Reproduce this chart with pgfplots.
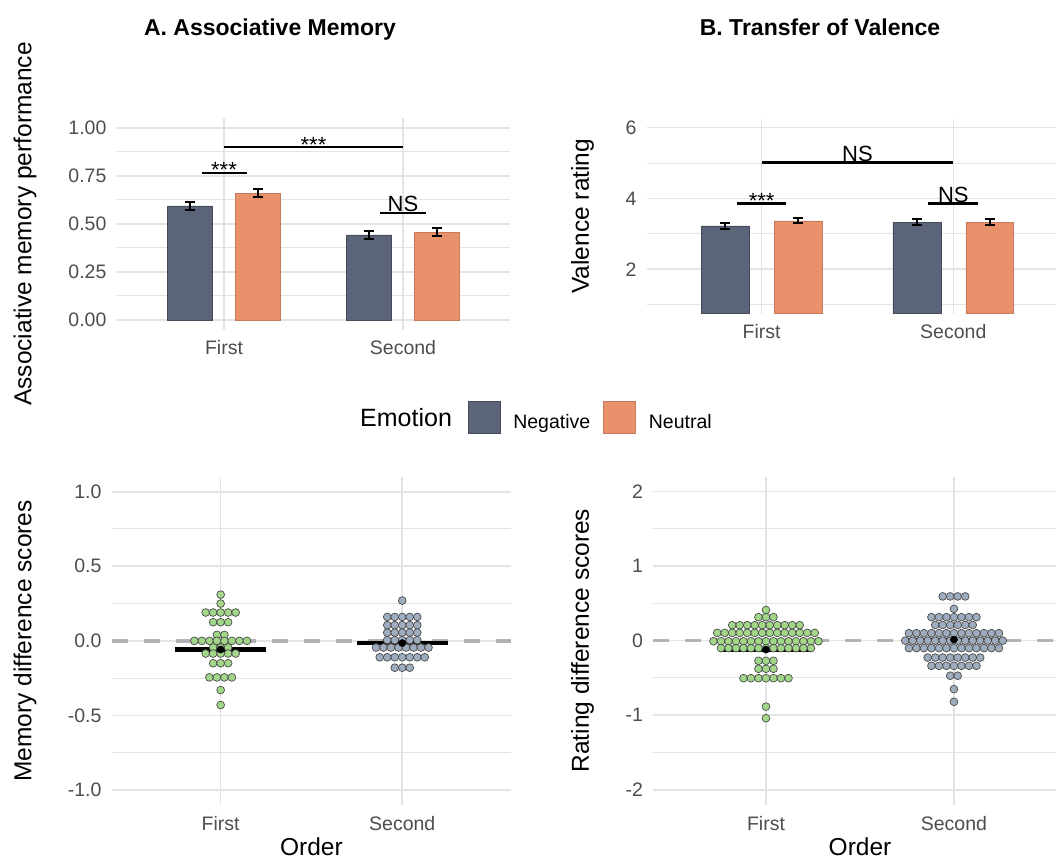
\documentclass[border=0pt]{standalone}
\usepackage{fontspec}
\setmainfont{Liberation Sans}
\usepackage{pgfplots}
\pgfplotsset{compat=1.18}
\definecolor{negc}{HTML}{5C6479}
\definecolor{neuc}{HTML}{E8916A}
\definecolor{gridc}{HTML}{E4E4E4}
\definecolor{greenc}{HTML}{A2D789}
\definecolor{grayc}{HTML}{9DADBD}
\definecolor{edgec}{HTML}{4A4A4A}
\definecolor{dashc}{HTML}{A8A8A8}
\definecolor{tickc}{HTML}{4D4D4D}
\newcommand{\tickfont}{\fontsize{19.5pt}{20pt}\selectfont}
\newcommand{\labfont}{\fontsize{24.5pt}{25pt}\selectfont}
\newcommand{\sigfont}{\fontsize{22pt}{23pt}\selectfont}
\pgfplotsset{
  base/.style={
    scale only axis, clip=true,
    axis line style={draw=none},
    major tick length=0pt, minor tick length=0pt,
    tick style={draw=none},
    xtick={1,2}, xticklabels={First,Second},
    xmajorgrids, ymajorgrids, yminorgrids,
    major grid style={draw=gridc, line width=1.6pt},
    minor grid style={draw=gridc, line width=1.0pt},
    tick label style={font=\tickfont, color=tickc},
    yticklabel style={anchor=east, inner sep=0pt, xshift=-10pt},
    xticklabel style={anchor=north, inner sep=0pt, yshift=-11pt},
    /pgf/number format/assume math mode=true,
    xmin=0.4,
  },
  sigline/.style={black, line width=2.3pt, forget plot},
  bars/.style={ybar, bar width=0.25, bar shift=0pt, forget plot,
    error bars/y dir=both, error bars/y explicit,
    error bars/error bar style={black, line width=2pt},
    error bars/error mark options={black, rotate=90, mark size=5pt, line width=2pt}},
  dotsg/.style={only marks, mark=*, mark size=3.9pt, forget plot,
    mark options={fill=greenc, draw=edgec, line width=0.7pt}},
  dotsb/.style={only marks, mark=*, mark size=3.9pt, forget plot,
    mark options={fill=grayc, draw=edgec, line width=0.7pt}},
  zeroline/.style={dashc, line width=3.5pt, dash pattern=on 16pt off 16pt, opacity=0.85, forget plot},
  meanline/.style={black, line width=4pt, forget plot},
  meanpt/.style={only marks, mark=*, mark size=3.6pt, black, forget plot,
    error bars/y dir=both, error bars/y explicit, error bars/error bar style={black, line width=2pt}, error bars/error mark=none},
}
\begin{document}
\begin{tikzpicture}
\useasboundingbox (0,0) rectangle (1056pt,859pt);

% ---------------- Panel A ----------------
\begin{axis}[base,
  at={(116.6pt,529.4pt)}, anchor=south west,
  width=393.8pt, height=211.2pt,
  xmax=2.6, ymin=-0.05, ymax=1.05,
  ytick={0,0.25,0.5,0.75,1}, yticklabels={0.00,0.25,0.50,0.75,1.00},
  minor ytick={0.125,0.375,0.625,0.875},
  ylabel={Associative memory performance},
  every axis y label/.style={at={(axis description cs:-0.2326,0.5)}, rotate=90, anchor=center, font=\labfont, inner sep=0pt},
  legend style={at={(axis description cs:0.8916,-0.4162)}, anchor=west, draw=none, fill=none,
    inner sep=0pt, outer sep=0pt, column sep=13pt, font=\tickfont, nodes={inner sep=0pt}},
  legend columns=-1,
]
\addplot[bars, fill=negc, draw=negc!75!black, line width=0.5pt] coordinates {(0.81,0.595) +- (0,0.022) (1.81,0.443) +- (0,0.022)};
\addplot[bars, fill=neuc, draw=neuc!85!black, line width=0.5pt] coordinates {(1.19,0.661) +- (0,0.020) (2.19,0.458) +- (0,0.022)};
\addplot[sigline] coordinates {(0.875,0.767) (1.128,0.767)};
\addplot[sigline] coordinates {(1,0.90) (2,0.90)};
\addplot[sigline] coordinates {(1.87,0.557) (2.13,0.557)};
\node[anchor=base, inner sep=0pt, font=\sigfont, yshift=-5pt] at (axis cs:1,0.767) {***};
\node[anchor=base, inner sep=0pt, font=\sigfont, yshift=-5pt] at (axis cs:1.5,0.90) {***};
\node[anchor=base, inner sep=0pt, font=\sigfont, yshift=1.2pt] at (axis cs:2,0.557) {NS};
\addlegendimage{legend image code/.code={\draw[fill=negc, draw=negc!75!black, line width=0.6pt] (0pt,-11.6pt) rectangle (32pt,20pt);}}
\addlegendentry{Negative}
\addlegendimage{legend image code/.code={\draw[fill=neuc, draw=neuc!85!black, line width=0.6pt] (0pt,-11.6pt) rectangle (32pt,20pt);}}
\addlegendentry{Neutral}
\end{axis}

% ---------------- Panel B ----------------
\begin{axis}[base,
  at={(646.7pt,545.45pt)}, anchor=south west,
  width=409.3pt, height=194.7pt,
  xmax=2.536, ymin=0.75, ymax=6.25,
  ytick={2,4,6}, yticklabels={2,4,6},
  minor ytick={1,3,5},
  ylabel={Valence rating},
  every axis y label/.style={at={(axis description cs:-0.1569,0.5)}, rotate=90, anchor=center, font=\labfont, inner sep=0pt},
]
\addplot[bars, fill=negc, draw=negc!75!black, line width=0.5pt] coordinates {(0.81,3.23) +- (0,0.085) (1.81,3.33) +- (0,0.08)};
\addplot[bars, fill=neuc, draw=neuc!85!black, line width=0.5pt] coordinates {(1.19,3.37) +- (0,0.075) (2.19,3.33) +- (0,0.08)};
\addplot[sigline] coordinates {(0.873,3.86) (1.125,3.86)};
\addplot[sigline] coordinates {(1.87,3.86) (2.13,3.86)};
\addplot[sigline] coordinates {(1,5.02) (2,5.02)};
\node[anchor=base, inner sep=0pt, font=\sigfont, yshift=-5pt] at (axis cs:1,3.86) {***};
\node[anchor=base, inner sep=0pt, font=\sigfont, yshift=1.2pt] at (axis cs:2,3.86) {NS};
\node[anchor=base, inner sep=0pt, font=\sigfont, yshift=1.2pt] at (axis cs:1.5,5.02) {NS};
\end{axis}

% ---------------- Panel C ----------------
\begin{axis}[base,
  at={(111.7pt,54.1pt)}, anchor=south west,
  width=399.5pt, height=328.1pt,
  xmax=2.6, ymin=-1.1, ymax=1.1,
  ytick={-1,-0.5,0,0.5,1}, yticklabels={-1.0,-0.5,0.0,0.5,1.0},
  minor ytick={-0.75,-0.25,0.25,0.75},
  ylabel={Memory difference scores},
  every axis y label/.style={at={(axis description cs:-0.2170,0.5)}, rotate=90, anchor=center, font=\labfont, inner sep=0pt},
  xlabel={Order},
  every axis x label/.style={at={(axis description cs:0.5,-0.127)}, anchor=center, font=\labfont, inner sep=0pt},
]
\addplot[dotsg] table[x expr=1+0.0413*\thisrow{k}, y=v] {
k v
0 0.31
0 0.25
-2 0.19
-1 0.19
0 0.19
1 0.19
2 0.19
-1 0.125
0 0.125
1 0.125
-0.5 0.04
0.5 0.04
-3.5 0.0
-2.5 0.0
-1.5 0.0
-0.5 0.0
0.5 0.0
1.5 0.0
2.5 0.0
3.5 0.0
-1 -0.045
0 -0.045
1 -0.045
-2 -0.085
-1 -0.085
0 -0.085
1 -0.085
2 -0.085
-1 -0.15
0 -0.15
1 -0.15
-1.5 -0.245
-0.5 -0.245
0.5 -0.245
1.5 -0.245
0 -0.33
0 -0.43
};
\addplot[dotsb] table[x expr=2+0.0413*\thisrow{k}, y=v] {
k v
0 0.27
-2 0.16
-1 0.16
0 0.16
1 0.16
2 0.16
-2 0.105
-1 0.105
0 0.105
1 0.105
2 0.105
-2 0.055
-1 0.055
0 0.055
1 0.055
2 0.055
-2 0.005
-1 0.005
0 0.005
1 0.005
2 0.005
-3.5 -0.045
-2.5 -0.045
-1.5 -0.045
-0.5 -0.045
0.5 -0.045
1.5 -0.045
2.5 -0.045
3.5 -0.045
-3 -0.11
-2 -0.11
-1 -0.11
0 -0.11
1 -0.11
2 -0.11
3 -0.11
-1 -0.18
0 -0.18
1 -0.18
};
\addplot[zeroline] coordinates {(0.4,0) (2.6,0)};
\addplot[meanline] coordinates {(0.75,-0.058) (1.25,-0.058)};
\addplot[meanline] coordinates {(1.75,-0.015) (2.25,-0.015)};
\addplot[meanpt] coordinates {(1,-0.058) +- (0,0.03) (2,-0.015) +- (0,0.025)};
\end{axis}

% ---------------- Panel D ----------------
\begin{axis}[base,
  at={(653.2pt,54.2pt)}, anchor=south west,
  width=402.8pt, height=328.3pt,
  xmax=2.543, ymin=-2.2, ymax=2.2,
  ytick={-2,-1,0,1,2}, yticklabels={-2,-1,0,1,2},
  minor ytick={-1.5,-0.5,0.5,1.5},
  ylabel={Rating difference scores},
  every axis y label/.style={at={(axis description cs:-0.1755,0.5)}, rotate=90, anchor=center, font=\labfont, inner sep=0pt},
  xlabel={Order},
  every axis x label/.style={at={(axis description cs:0.5134,-0.127)}, anchor=center, font=\labfont, inner sep=0pt},
]
\addplot[dotsg] table[x expr=1+0.0399*\thisrow{k}, y=v] {
k v
0 0.41
-1 0.315
0 0.315
1 0.315
-4.5 0.207
-3.5 0.207
-2.5 0.207
-1.5 0.207
-0.5 0.207
0.5 0.207
1.5 0.207
2.5 0.207
3.5 0.207
4.5 0.207
-6.5 0.104
-5.5 0.104
-4.5 0.104
-3.5 0.104
-2.5 0.104
-1.5 0.104
-0.5 0.104
0.5 0.104
1.5 0.104
2.5 0.104
3.5 0.104
4.5 0.104
5.5 0.104
6.5 0.104
-7 -0.008
-6 -0.008
-5 -0.008
-4 -0.008
-3 -0.008
-2 -0.008
-1 -0.008
0 -0.008
1 -0.008
2 -0.008
3 -0.008
4 -0.008
5 -0.008
6 -0.008
7 -0.008
-6 -0.1
-5 -0.1
-4 -0.1
-3 -0.1
-2 -0.1
-1 -0.1
0 -0.1
1 -0.1
2 -0.1
3 -0.1
4 -0.1
5 -0.1
6 -0.1
-1 -0.27
0 -0.27
1 -0.27
-1 -0.377
0 -0.377
1 -0.377
-3 -0.503
-2 -0.503
-1 -0.503
0 -0.503
1 -0.503
2 -0.503
3 -0.503
0 -0.884
0 -1.04
};
\addplot[dotsb] table[x expr=2+0.0399*\thisrow{k}, y=v] {
k v
-1.5 0.593
-0.5 0.593
0.5 0.593
1.5 0.593
0 0.427
-3 0.315
-2 0.315
-1 0.315
0 0.315
1 0.315
2 0.315
3 0.315
-2.5 0.21
-1.5 0.21
-0.5 0.21
0.5 0.21
1.5 0.21
2.5 0.21
-6 0.1
-5 0.1
-4 0.1
-3 0.1
-2 0.1
-1 0.1
0 0.1
1 0.1
2 0.1
3 0.1
4 0.1
5 0.1
6 0.1
-6.5 0.0
-5.5 0.0
-4.5 0.0
-3.5 0.0
-2.5 0.0
-1.5 0.0
-0.5 0.0
0.5 0.0
1.5 0.0
2.5 0.0
3.5 0.0
4.5 0.0
5.5 0.0
6.5 0.0
-6 -0.1
-5 -0.1
-4 -0.1
-3 -0.1
-2 -0.1
-1 -0.1
0 -0.1
1 -0.1
2 -0.1
3 -0.1
4 -0.1
5 -0.1
6 -0.1
-3.5 -0.227
-2.5 -0.227
-1.5 -0.227
-0.5 -0.227
0.5 -0.227
1.5 -0.227
2.5 -0.227
3.5 -0.227
-3 -0.337
-2 -0.337
-1 -0.337
0 -0.337
1 -0.337
2 -0.337
3 -0.337
-0.5 -0.47
0.5 -0.47
0 -0.65
0 -0.82
};
\addplot[zeroline] coordinates {(0.4,0) (2.6,0)};
\addplot[meanline] coordinates {(0.75,-0.12) (1.25,-0.12)};
\addplot[meanline] coordinates {(1.75,0.015) (2.25,0.015)};
\addplot[meanpt] coordinates {(1,-0.12) +- (0,0.05) (2,0.015) +- (0,0.05)};
\end{axis}

% ---------------- titles and legend title ----------------
\node[anchor=base, inner sep=0pt, font=\bfseries\fontsize{23pt}{24pt}\selectfont] at (270pt,823pt) {A. Associative Memory};
\node[anchor=base, inner sep=0pt, font=\bfseries\fontsize{23pt}{24pt}\selectfont] at (820pt,823pt) {B. Transfer of Valence};
\node[anchor=base west, inner sep=0pt, font=\fontsize{25pt}{26pt}\selectfont] at (360pt,432.3pt) {Emotion};
\end{tikzpicture}
\end{document}
